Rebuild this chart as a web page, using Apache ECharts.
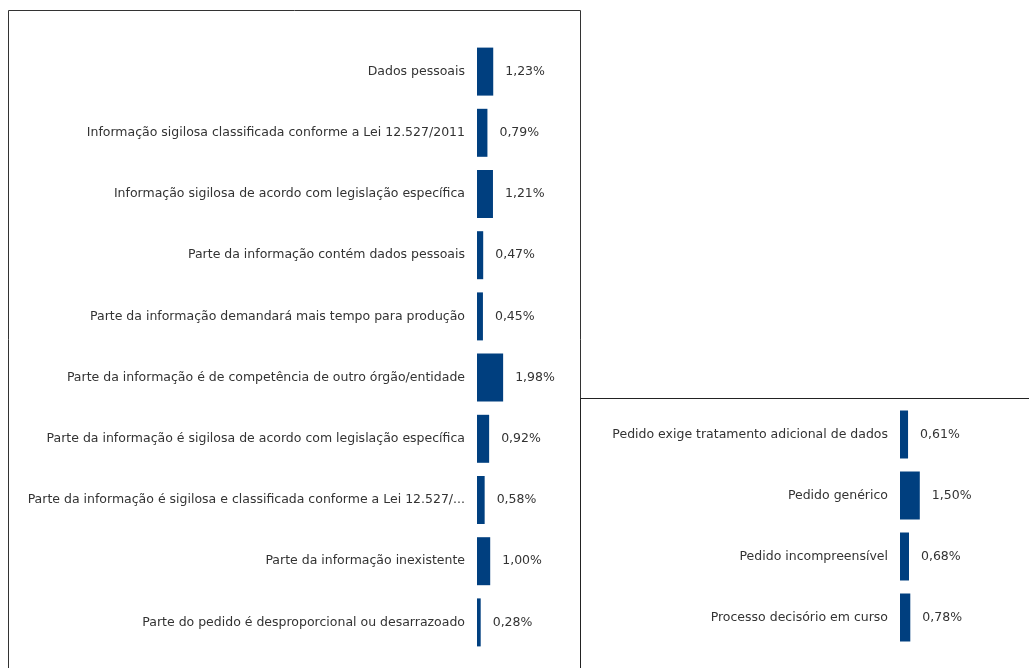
<!DOCTYPE html>
<html><head><meta charset="utf-8">
<script src="https://cdn.jsdelivr.net/npm/echarts@6/dist/echarts.min.js"></script>
<style>html,body{margin:0;padding:0;background:#fff}#c{width:1029px;height:668px}</style>
</head><body><div id="c"></div>
<script>
var leftCategories = [
  "Dados pessoais",
  "Informação sigilosa classificada conforme a Lei 12.527/2011",
  "Informação sigilosa de acordo com legislação específica",
  "Parte da informação contém dados pessoais",
  "Parte da informação demandará mais tempo para produção",
  "Parte da informação é de competência de outro órgão/entidade",
  "Parte da informação é sigilosa de acordo com legislação específica",
  "Parte da informação é sigilosa e classificada conforme a Lei 12.527/...",
  "Parte da informação inexistente",
  "Parte do pedido é desproporcional ou desarrazoado"
];
var leftValues = [1.23, 0.79, 1.21, 0.47, 0.45, 1.98, 0.92, 0.58, 1.00, 0.28];
var rightCategories = [
  "Pedido exige tratamento adicional de dados",
  "Pedido genérico",
  "Pedido incompreensível",
  "Processo decisório em curso"
];
var rightValues = [0.61, 1.50, 0.68, 0.78];

var FONT = "DejaVu Sans";
var FS = 12.5;
var BAR = "#003f7f";
var TXT = "#333333";
function fmt(p){ return p.value.toFixed(2).replace('.', ',') + '%'; }

var chart = echarts.init(document.getElementById('c'), null, {renderer:'canvas'});
function yAx(idx, cats){
  return {type:'category', gridIndex:idx, data:cats, inverse:true,
    axisLine:{show:false}, axisTick:{show:false}, splitLine:{show:false},
    axisLabel:{color:TXT, fontFamily:FONT, fontSize:FS, margin:12}};
}
function xAx(idx){
  return {type:'value', gridIndex:idx, min:0, max:5, show:false};
}
function ser(idx, vals){
  return {type:'bar', xAxisIndex:idx, yAxisIndex:idx, data:vals, barWidth:48,
    itemStyle:{color:BAR}, silent:true,
    label:{show:true, position:'right', distance:12, color:TXT, fontFamily:FONT, fontSize:FS, formatter:fmt}};
}
chart.setOption({
  animation:false,
  graphic:[
    {type:'rect', shape:{x:8.5, y:10.5, width:572, height:680}, style:{fill:'none', stroke:'#333', lineWidth:1}, z:-1},
    {type:'rect', shape:{x:580.5, y:398.5, width:470, height:300}, style:{fill:'none', stroke:'#222', lineWidth:1}, z:-1}
  ],
  grid:[
    {left:477, width:66, top:41, height:612},
    {left:900, width:66, top:404, height:244}
  ],
  xAxis:[xAx(0), xAx(1)],
  yAxis:[yAx(0, leftCategories), yAx(1, rightCategories)],
  series:[ser(0, leftValues), ser(1, rightValues)]
});
</script></body></html>
